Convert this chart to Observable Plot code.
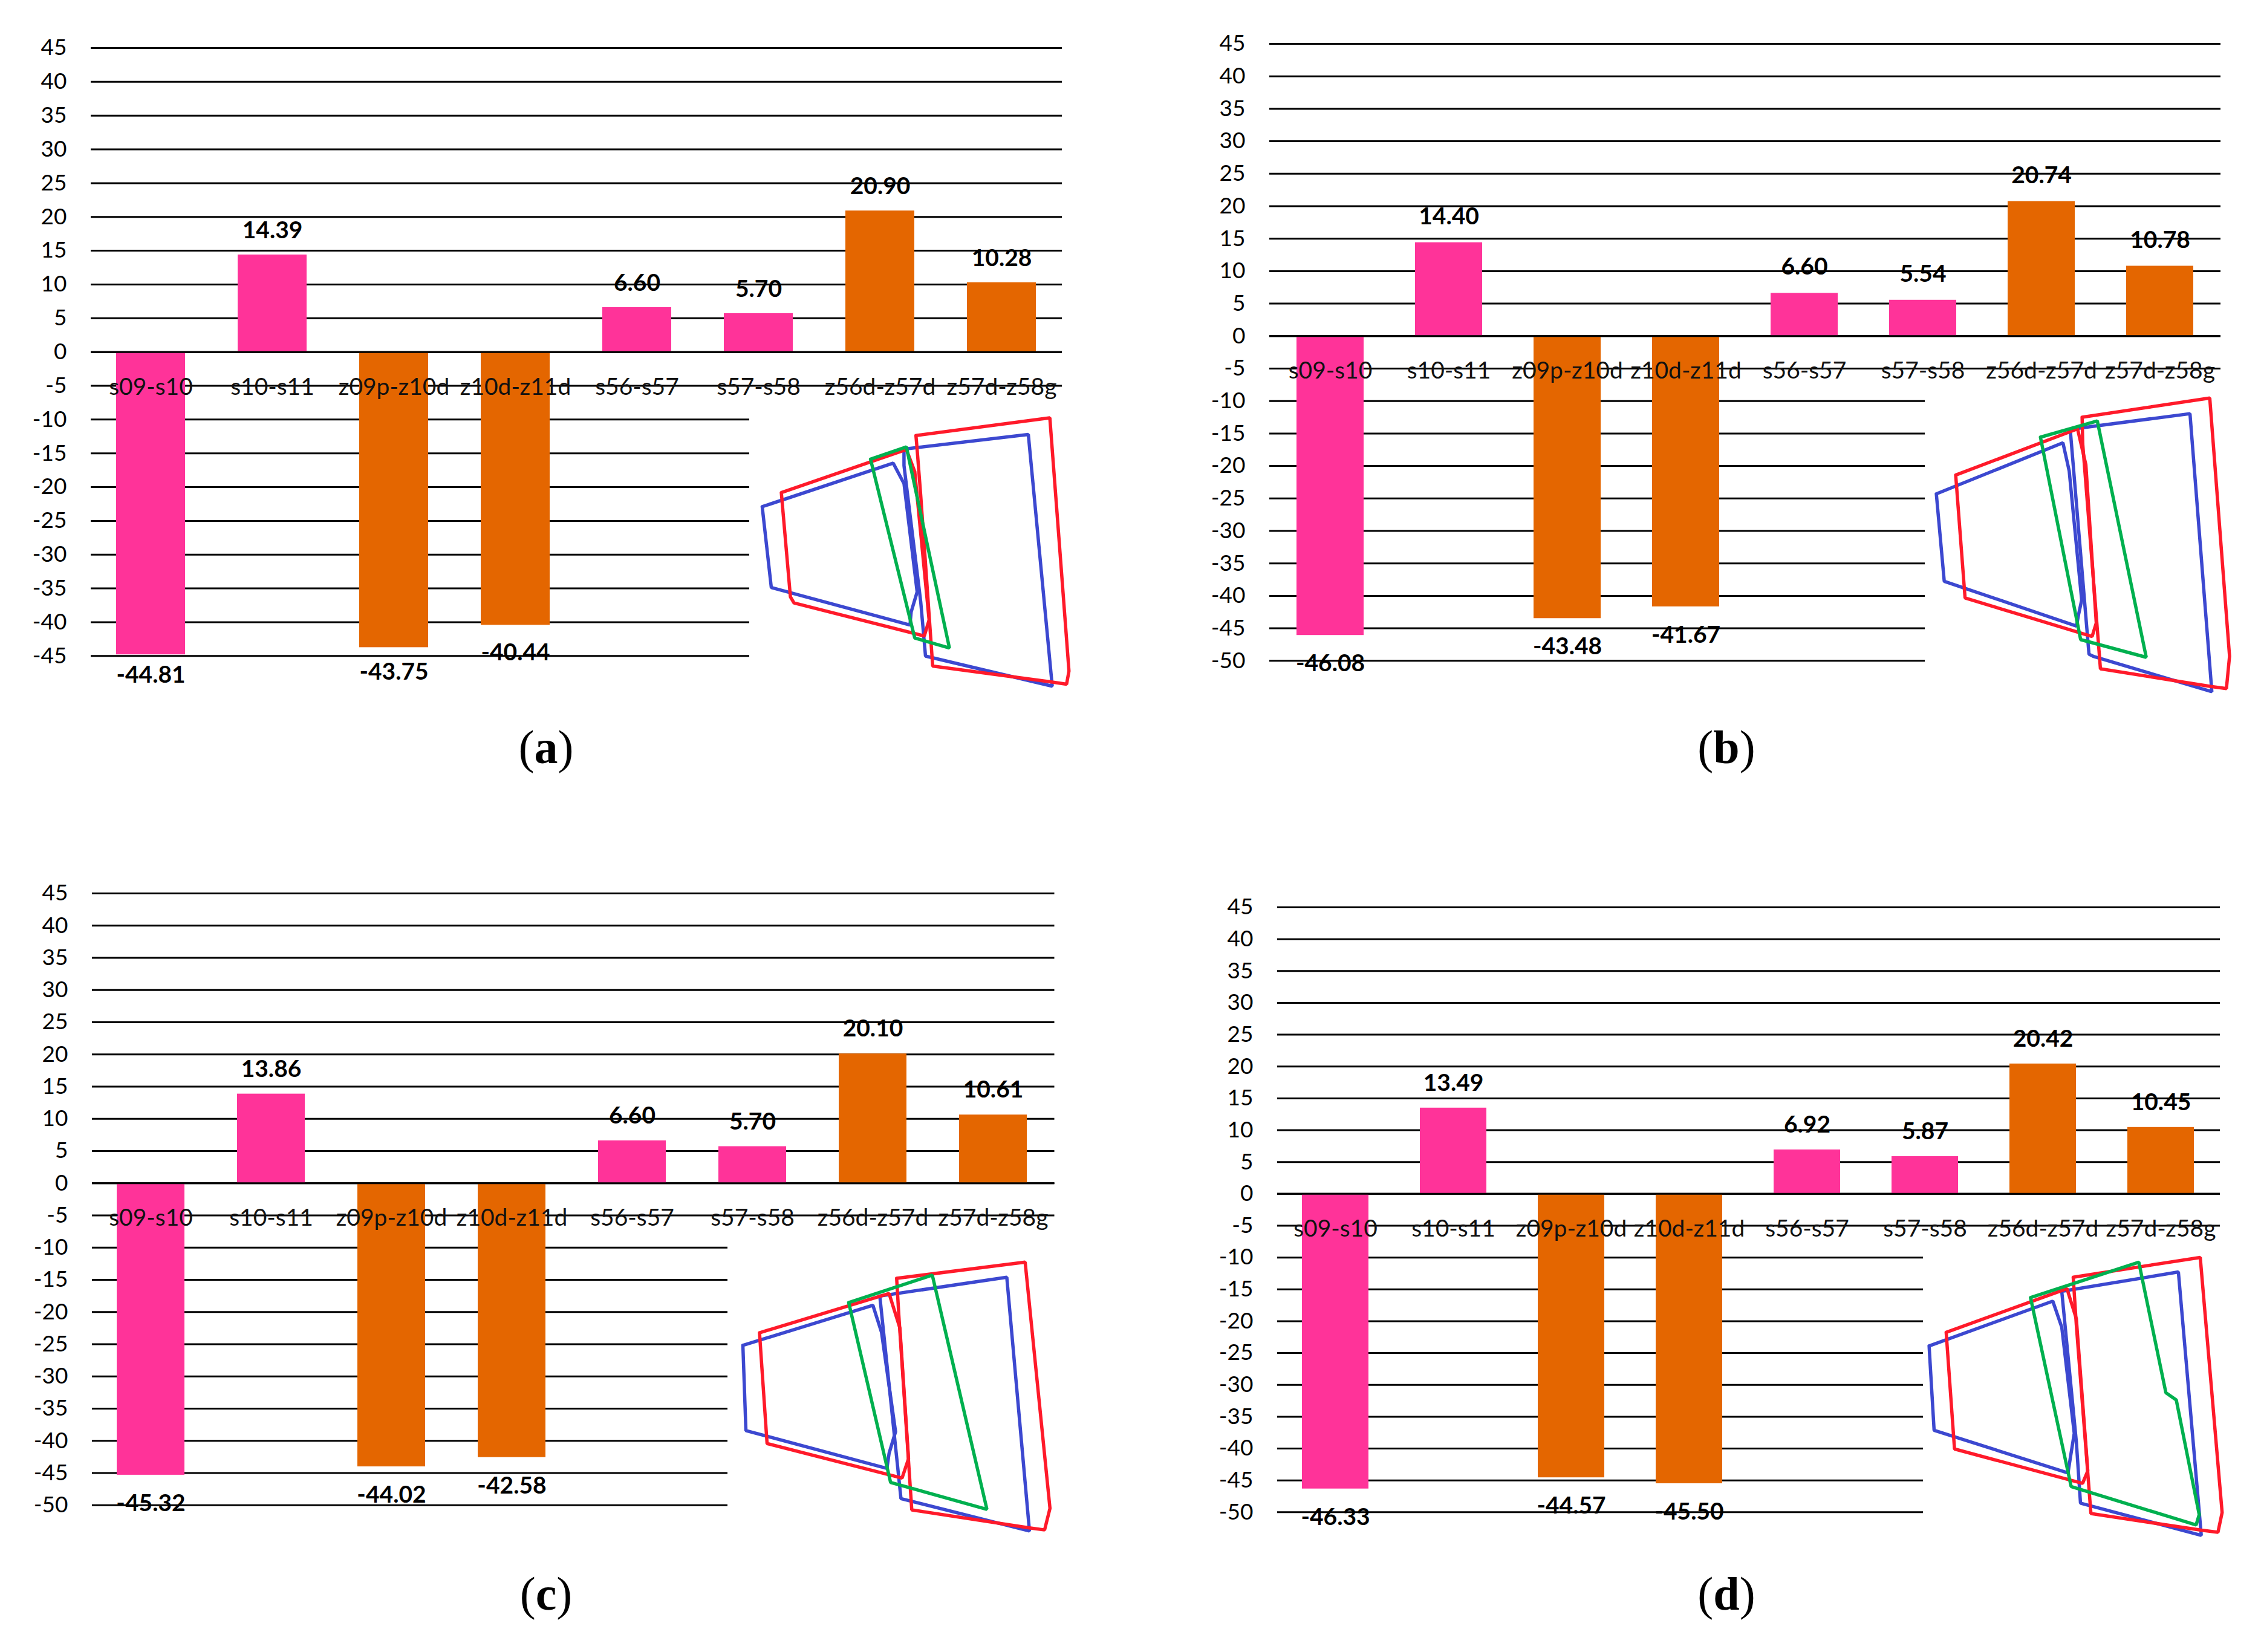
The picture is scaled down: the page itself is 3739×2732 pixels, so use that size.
<!DOCTYPE html>
<html>
<head>
<meta charset="utf-8">
<script src="https://cdn.jsdelivr.net/npm/d3@7"></script>
<script src="https://cdn.jsdelivr.net/npm/@observablehq/plot@0.6"></script>
<style>
  html, body { margin: 0; background: #fff; }
  #page { position: relative; width: 3739px; height: 2732px; overflow: hidden; background: #fff; }
  #page > div { position: absolute; }
  .caption { font: 78px "Liberation Serif", serif; color: #000; transform: translate(-50%, -50%); white-space: nowrap; }
</style>
</head>
<body>
<div id="page"></div>
<script>
const categories = ['s09-s10', 's10-s11', 'z09p-z10d', 'z10d-z11d', 's56-s57', 's57-s58', 'z56d-z57d', 'z57d-z58g']
const families = ['s', 's', 'z', 'z', 's', 's', 'z', 'z']

const valuesA = [-44.81, 14.39, -43.75, -40.44, 6.60, 5.70, 20.90, 10.28]
const valuesB = [-46.08, 14.40, -43.48, -41.67, 6.60, 5.54, 20.74, 10.78]
const valuesC = [-45.32, 13.86, -44.02, -42.58, 6.60, 5.70, 20.10, 10.61]
const valuesD = [-46.33, 13.49, -44.57, -45.50, 6.92, 5.87, 20.42, 10.45]

const ticksA = [45, 40, 35, 30, 25, 20, 15, 10, 5, 0, -5, -10, -15, -20, -25, -30, -35, -40, -45]
const ticksB = [...ticksA, -50]

// outlines of the small inset drawing (inset units, 0-1568)
const blueA = [
  [[152,535],[700,318],[745,420],[800,960],[775,1060],[770,1125],[190,938],[152,535]],
  [[745,248],[1265,175],[1365,1430],[835,1280],[815,1010],[745,330],[745,248]],
]
const redA = [
  [[232,465],[755,250],[790,360],[850,1100],[830,1180],[285,1015],[270,985],[232,465]],
  [[795,180],[1355,92],[1435,1355],[1425,1420],[1365,1410],[865,1330],[815,480],[800,250],[795,180]],
]
const greenA = [[[605,298],[755,237],[935,1240],[790,1190],[605,298]]]

const blueB = [
  [[62,540],[670,295],[700,430],[760,1050],[745,1120],[735,1175],[100,960],[62,540]],
  [[705,230],[1280,155],[1385,1490],[815,1320],[795,1310],[705,230]],
]
const redB = [
  [[155,450],[740,228],[780,400],[830,1160],[810,1225],[200,1040],[155,450]],
  [[762,172],[1375,80],[1470,1320],[1455,1475],[1380,1465],[850,1380],[765,300],[762,172]],
]
const greenB = [[[562,268],[835,190],[1070,1325],[755,1240],[562,268]]]

const blueC = [
  [[78,460],[680,275],[720,400],[785,860],[755,960],[745,1030],[92,855],[78,460]],
  [[712,232],[1300,145],[1405,1320],[810,1170],[712,232]],
]
const redC = [
  [[155,402],[755,220],[805,380],[845,985],[815,1075],[190,915],[155,402]],
  [[790,150],[1385,75],[1500,1215],[1475,1315],[1400,1305],[860,1222],[800,320],[790,150]],
]
const greenC = [[[568,262],[955,135],[1208,1220],[762,1095],[568,262]]]

const blueD = [
  [[28,480],[622,265],[665,390],[725,900],[705,1025],[695,1090],[52,885],[28,480]],
  [[665,218],[1225,125],[1335,1390],[755,1235],[735,940],[665,218]],
]
const redD = [
  [[110,415],[690,205],[735,350],[790,1080],[765,1140],[150,975],[110,415]],
  [[720,150],[1330,55],[1435,1280],[1415,1375],[1335,1365],[805,1285],[735,380],[720,150]],
]
const greenD = [[[515,248],[1035,78],[1165,705],[1215,740],[1325,1290],[1310,1340],[710,1155],[515,248]]]

const page = document.getElementById('page')
const marginLeft = 130, marginRight = 10, marginTop = 30, marginBottom = 70

function place(node, left, top) {
  const box = document.createElement('div')
  box.style.left = left + 'px'
  box.style.top = top + 'px'
  box.append(node)
  page.append(box)
}

function plotPanel(values, ticks, frame) {
  const rows = categories.map((cat, i) => ({cat, val: values[i], family: families[i], i}))
  const yMin = d3.min(ticks)
  const width = marginLeft + marginRight + frame.x2 - frame.x1
  const height = marginTop + marginBottom + (45 - yMin) * frame.unit
  // value labels sit a fixed distance off the bar end, a few were moved by hand
  const labelDy = d => (d.val < 0 ? 47 : -frame.above) + (frame.nudge?.[d.i] ?? 0)
  const chart = Plot.plot({
    width,
    height,
    marginLeft, marginRight, marginTop, marginBottom,
    style: {fontFamily: 'Lato', fontSize: '37px', color: '#000', maxWidth: 'none'},
    // bars are spread a little wider than the gridlines in some panels
    x: {
      domain: categories, paddingInner: 0.435, paddingOuter: 0.2175, axis: null,
      range: [marginLeft + (frame.barLeft ?? 0), width - marginRight + (frame.barRight ?? 0)],
    },
    y: {domain: [yMin, 45]},
    color: {domain: ['s', 'z'], range: ['#ff3399', '#e46600']},
    marks: [
      Plot.ruleY(ticks, {stroke: '#000', strokeWidth: 3}),
      Plot.barY(rows, {x: 'cat', y: 'val', fill: 'family'}),
      Plot.ruleY([0], {stroke: '#000', strokeWidth: 3}),
      Plot.axisY({ticks, tickSize: 0, tickPadding: 40, tickFormat: d => String(d), label: null, fill: '#000'}),
      Plot.text(rows, {x: 'cat', y: () => 0, text: 'cat', dy: 58, fontSize: 39, fill: '#111'}),
      ...d3.groups(rows, labelDy).map(([dy, group]) => Plot.text(group, {
        x: 'cat', y: 'val', text: d => d.val.toFixed(2),
        dy, fontWeight: 700, fontSize: 39, fill: '#000',
      })),
    ],
  })
  place(chart, frame.x1 - marginLeft, frame.zero - 45 * frame.unit - marginTop)
}

function plotInset(blue, red, green, inset) {
  const width = (1568 - inset.u0) * inset.sx
  const height = (1568 - inset.v0) * inset.sy
  const outline = (points, stroke) => Plot.line(points, {
    x: d => d[0], y: d => d[1], stroke, strokeWidth: 5.5, strokeLinejoin: 'miter',
  })
  const chart = Plot.plot({
    width, height, margin: 0,
    style: {background: '#fff', maxWidth: 'none'},
    x: {domain: [inset.u0, 1568], axis: null},
    y: {domain: [1568, inset.v0], axis: null},
    marks: [
      ...blue.map(p => outline(p, '#3c48d0')),
      ...red.map(p => outline(p, '#ff1a2a')),
      ...green.map(p => outline(p, '#00b04f')),
    ],
  })
  place(chart, inset.x + inset.u0 * inset.sx, inset.y + inset.v0 * inset.sy)
}

function caption(letter, x, y) {
  const el = document.createElement('div')
  el.className = 'caption'
  el.style.left = x + 'px'
  el.style.top = y + 'px'
  el.innerHTML = '(<b>' + letter + '</b>)'
  page.append(el)
}

plotPanel(valuesA, ticksA, {x1: 150, x2: 1756, zero: 582, unit: 11.17, above: 40, barLeft: -2, nudge: {0: -13, 2: -6, 3: -1}})
plotPanel(valuesB, ticksB, {x1: 2099, x2: 3672, zero: 555, unit: 10.74, above: 43})
plotPanel(valuesC, ticksB, {x1: 151.5, x2: 1743, zero: 1956.5, unit: 10.65, above: 41, barLeft: -4})
plotPanel(valuesD, ticksB, {x1: 2112, x2: 3671, zero: 1974, unit: 10.53, above: 41, barLeft: -5, barRight: 3})

plotInset(blueA, redA, greenA, {x: 1200, y: 660, sx: 620 / 1568, sy: 520 / 1568, u0: 99, v0: 0})
plotInset(blueB, redB, greenB, {x: 3180, y: 630, sx: 540 / 1568, sy: 540 / 1568, u0: 8, v0: 40})
plotInset(blueC, redC, greenC, {x: 1200, y: 2060, sx: 560 / 1568, sy: 560 / 1568, u0: 8, v0: 0})
plotInset(blueD, redD, greenD, {x: 3180, y: 2060, sx: 540 / 1568, sy: 540 / 1568, u0: 0, v0: 0})

caption('a', 903, 1236)
caption('b', 2855, 1236)
caption('c', 903, 2636)
caption('d', 2855, 2636)
</script>
</body>
</html>
